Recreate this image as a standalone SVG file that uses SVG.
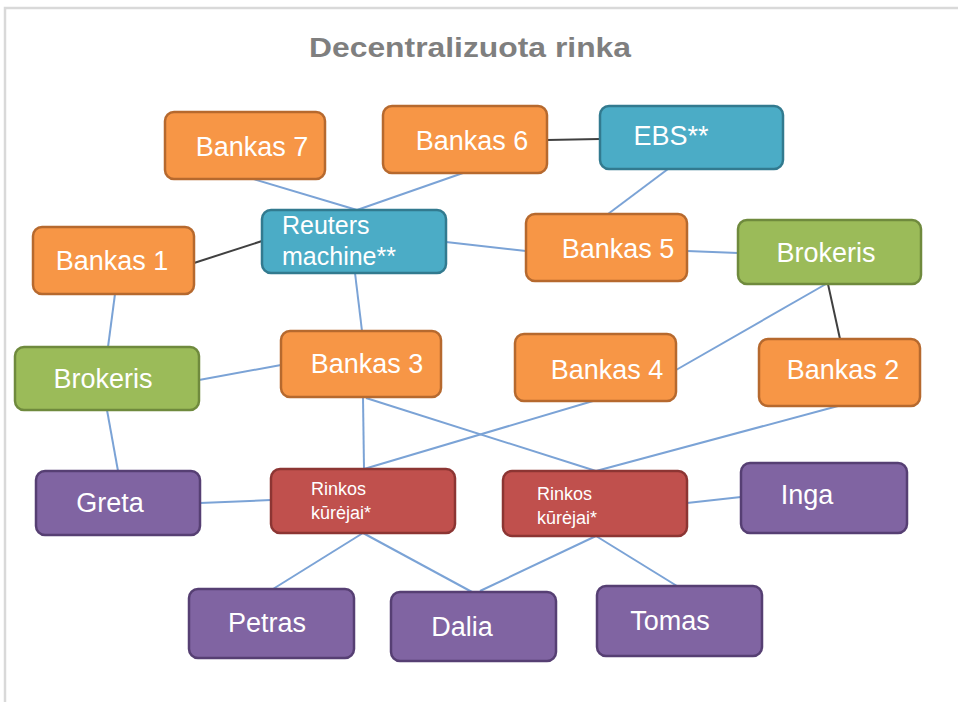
<svg xmlns="http://www.w3.org/2000/svg" width="958" height="702" viewBox="0 0 958 702">
<style>
.n rect{stroke-width:2.5}
.o rect{fill:#f79646;stroke:#b6692e}
.b rect{fill:#4bacc6;stroke:#327a8f}
.g rect{fill:#9bbb59;stroke:#6f8a3d}
.r rect{fill:#c0504d;stroke:#8c3533}
.p rect{fill:#8064a2;stroke:#563f73}
.n text{font-family:"Liberation Sans",Arial,sans-serif;font-size:27px;fill:#fff;text-anchor:middle}
.n text.s{font-size:18px;text-anchor:start}
.n text.m{font-size:25px;text-anchor:start}
#connectors line{stroke:#7ba3d6;stroke-width:2}
#connectors line.d{stroke:#404040}
</style>
<rect width="958" height="702" fill="#fff"/>
<path d="M5,702 V8 H958" fill="none" stroke="#d9d9d9" stroke-width="2.5"/>
<text x="470" y="57" font-family="Liberation Sans,Arial,sans-serif" font-size="28" font-weight="bold" fill="#7f7f7f" text-anchor="middle" textLength="322" lengthAdjust="spacingAndGlyphs">Decentralizuota rinka</text>
<g id="connectors">
<line x1="250" y1="178" x2="357" y2="210"/>
<line x1="463" y1="173" x2="357" y2="210"/>
<line class="d" x1="547" y1="140" x2="600" y2="139"/>
<line x1="668" y1="169" x2="608" y2="214"/>
<line class="d" x1="194" y1="263" x2="262" y2="241"/>
<line x1="446" y1="242" x2="526" y2="251"/>
<line x1="687" y1="251" x2="738" y2="253"/>
<line class="d" x1="828" y1="284" x2="840" y2="339"/>
<line x1="826" y1="284" x2="676" y2="370"/>
<line x1="355" y1="273" x2="362" y2="331"/>
<line x1="115" y1="294" x2="108" y2="347"/>
<line x1="199" y1="380" x2="281" y2="365"/>
<line x1="107" y1="410" x2="118" y2="471"/>
<line x1="363" y1="397" x2="364" y2="469"/>
<line x1="366" y1="398" x2="596" y2="471"/>
<line x1="593" y1="401" x2="364" y2="469"/>
<line x1="838" y1="406" x2="596" y2="471"/>
<line x1="200" y1="503" x2="271" y2="500"/>
<line x1="687" y1="503" x2="741" y2="497"/>
<line x1="363" y1="533" x2="273" y2="589"/>
<line x1="363" y1="533" x2="472" y2="592"/>
<line x1="596" y1="536" x2="480" y2="591"/>
<line x1="596" y1="536" x2="677" y2="586"/>
</g>
<g id="bankas7" class="n o"><rect x="165" y="112" width="160" height="67" rx="9"/><text x="252" y="156">Bankas 7</text></g>
<g id="bankas6" class="n o"><rect x="383" y="106" width="164" height="67" rx="9"/><text x="472" y="150">Bankas  6</text></g>
<g id="ebs" class="n b"><rect x="600" y="106" width="183" height="63" rx="9"/><text x="671" y="145">EBS**</text></g>
<g id="reuters" class="n b"><rect x="262" y="210" width="184" height="63" rx="9"/><text class="m" x="282" y="234">Reuters</text><text class="m" x="282" y="265">machine**</text></g>
<g id="bankas5" class="n o"><rect x="526" y="214" width="161" height="67" rx="9"/><text x="618" y="258">Bankas 5</text></g>
<g id="brokeris2" class="n g"><rect x="738" y="220" width="183" height="64" rx="9"/><text x="826" y="262">Brokeris</text></g>
<g id="bankas1" class="n o"><rect x="33" y="227" width="161" height="67" rx="9"/><text x="112" y="270">Bankas 1</text></g>
<g id="brokeris1" class="n g"><rect x="15" y="347" width="184" height="63" rx="9"/><text x="103" y="388">Brokeris</text></g>
<g id="bankas3" class="n o"><rect x="281" y="331" width="160" height="66" rx="9"/><text x="367" y="373">Bankas 3</text></g>
<g id="bankas4" class="n o"><rect x="515" y="334" width="161" height="67" rx="9"/><text x="607" y="379">Bankas 4</text></g>
<g id="bankas2" class="n o"><rect x="759" y="339" width="161" height="67" rx="9"/><text x="843" y="379">Bankas 2</text></g>
<g id="greta" class="n p"><rect x="36" y="471" width="164" height="64" rx="9"/><text x="110" y="512">Greta</text></g>
<g id="rinkos1" class="n r"><rect x="271" y="469" width="184" height="64" rx="9"/><text class="s" x="311" y="495">Rinkos</text><text class="s" x="311" y="519">kūrėjai*</text></g>
<g id="rinkos2" class="n r"><rect x="503" y="471" width="184" height="65" rx="9"/><text class="s" x="537" y="500">Rinkos</text><text class="s" x="537" y="524">kūrėjai*</text></g>
<g id="inga" class="n p"><rect x="741" y="463" width="166" height="70" rx="9"/><text x="807" y="504">Inga</text></g>
<g id="petras" class="n p"><rect x="189" y="589" width="165" height="69" rx="9"/><text x="267" y="632">Petras</text></g>
<g id="dalia" class="n p"><rect x="391" y="592" width="165" height="69" rx="9"/><text x="462" y="636">Dalia</text></g>
<g id="tomas" class="n p"><rect x="597" y="586" width="165" height="70" rx="9"/><text x="670" y="630">Tomas</text></g>
</svg>
